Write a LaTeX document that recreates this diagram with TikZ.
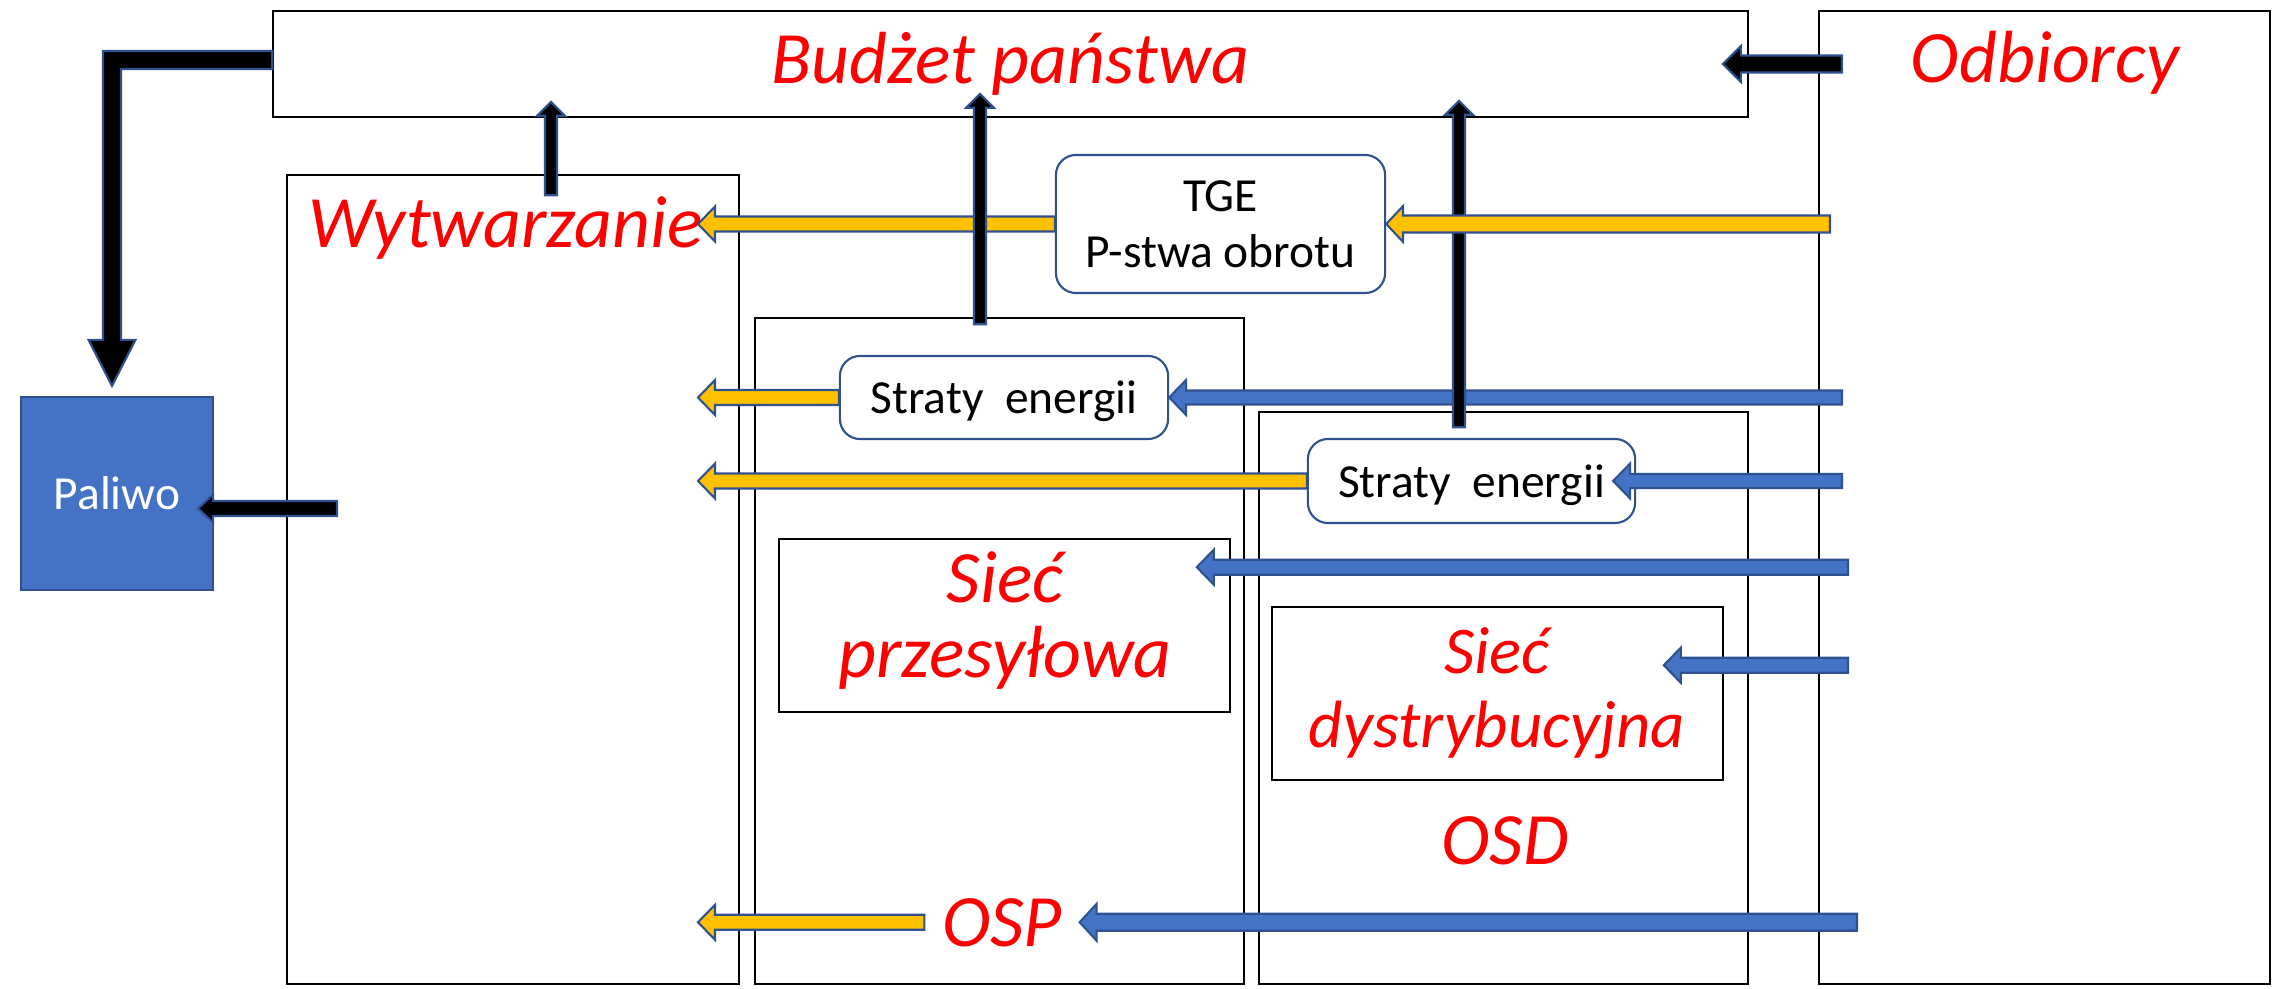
\documentclass[tikz,border=0pt]{standalone}
\usepackage{fontspec}
\setmainfont{Carlito}
\usetikzlibrary{calc,fit}

\definecolor{edge}{HTML}{2F528F}
\definecolor{gold}{HTML}{FFC000}
\definecolor{azure}{HTML}{4472C4}

\newcommand\titlefont{\fontsize{21}{21}\selectfont\itshape}
\newcommand\subtitlefont{\fontsize{19}{19}\selectfont\itshape}
\newcommand\bodyfont{\fontsize{13.5}{15.9}\selectfont}

\tikzset{
  frame/.style={draw=black, line width=0.45pt, inner sep=0pt},
  title/.style={text=red, font=\titlefont, inner sep=0pt},
  pill/.style={draw=edge, fill=white, line width=0.6pt, rounded corners=0.2cm,
    inner sep=0pt, align=center, font=\bodyfont},
  fuel/.style={draw=edge, fill=azure, line width=0.6pt, inner sep=0pt,
    text=white, font=\bodyfont},
  % block arrow: shaft half-width, head half-width, head length
  aw/.store in=\arrowshaft, ah/.store in=\arrowhead, al/.store in=\arrowlen,
  aw=0.07cm, ah=0.17cm, al=0.16cm,
  block/.style={draw=edge, line width=0.6pt, line join=miter, miter limit=10,
    to path={let \p1=(\tikztostart), \p2=(\tikztotarget),
      \n1={atan2(\y2-\y1,\x2-\x1)} in
      -- ($(\p1)+({\n1+90}:\arrowshaft)$)
      -- ($(\p2)+({\n1+180}:\arrowlen)+({\n1+90}:\arrowshaft)$)
      -- ($(\p2)+({\n1+180}:\arrowlen)+({\n1+90}:\arrowhead)$)
      -- (\p2)
      -- ($(\p2)+({\n1+180}:\arrowlen)+({\n1-90}:\arrowhead)$)
      -- ($(\p2)+({\n1+180}:\arrowlen)+({\n1-90}:\arrowshaft)$)
      -- ($(\p1)+({\n1-90}:\arrowshaft)$)
      -- cycle}},
  goldarrow/.style={block, fill=gold, aw=0.075cm, ah=0.175cm, al=0.17cm},
  bluearrow/.style={block, fill=azure, aw=0.075cm, ah=0.175cm, al=0.17cm},
  blackarrow/.style={block, fill=black},
  bentarrow/.style={draw=edge, fill=black, line width=0.6pt, line join=miter},
}

\begin{document}
\begin{tikzpicture}[x=0.01cm, y=-0.01cm]
\useasboundingbox (0,0) rectangle (2280,989);

% outer frames
\node[frame, fit={(273,11) (1748,117)}] (budzet) {};
\node[frame, fit={(1819,11) (2270,984)}] (odb) {};
\node[frame, fit={(287,175) (739,984)}] (wyt) {};
\node[frame, fit={(755,318) (1244,984)}] (osp) {};
\node[frame, fit={(1259,412) (1748,984)}] (osd) {};
\node[frame, fit={(779,539) (1230,712)}] (siecp) {};
\node[frame, fit={(1272,607) (1723,780)}] (siecd) {};

% red headings
\node[title, anchor=base] (budzetlbl) at (1010,84) {Budżet państwa};
\node[title, anchor=base] (odblbl) at (2045,83) {Odbiorcy};
\node[title, anchor=base] (wytlbl) at (506,248) {Wytwarzanie};
\node[title, anchor=base] (siecp1) at (1005,603) {Sieć};
\node[title, anchor=base] (siecp2) at (1005,677) {przesyłowa};
\node[title, font=\subtitlefont, anchor=base] (siecd1) at (1497,674) {Sieć};
\node[title, font=\subtitlefont, anchor=base] (siecd2) at (1497,748) {dystrybucyjna};
\node[title, anchor=base] (osdlbl) at (1505,864) {OSD};
\node[title, anchor=base, inner xsep=0.17cm] (osplbl) at (1002,946) {OSP};

% rounded boxes and fuel block
\node[pill, minimum width=3.29cm, minimum height=1.38cm] (tge) at (1220.5,224) {TGE\\P-stwa obrotu};
\node[pill, text depth=0pt, minimum width=3.28cm, minimum height=0.83cm] (str1) at (1004,397.5) {Straty\ \ energii};
\node[pill, text depth=0pt, minimum width=3.27cm, minimum height=0.84cm] (str2) at (1471.5,481) {Straty\ \ energii};
\node[fuel, minimum width=1.92cm, minimum height=1.93cm] (paliwo) at (117,493.5) {Paliwo};

% arrow ends
\coordinate (wytE) at (698,0);
\coordinate (ytail) at (1830,0);
\coordinate (btail) at (1842,0);
\coordinate (btailb) at (1848,0);
\coordinate (btailc) at (1857,0);
\coordinate (k5tail) at (337,0);
\coordinate (s2in) at ([xshift=-0.23cm]str2.east);
\coordinate (pin) at ([shift={(-34,29)}]siecp.north east);
\coordinate (din) at ([shift={(-60,59)}]siecd.north east);
\coordinate (budin) at ([xshift=-0.26cm]budzet.east);
\coordinate (palin) at ([shift={(-16,15)}]paliwo.east);
\coordinate (k2) at ($(wyt.north)+(38,21)$);
\coordinate (k3) at ($(osp.north)+(-19.5,7)$);
\coordinate (k4) at ($(osd.north)+(-44.5,16)$);
\coordinate (fuelknee) at (112,60);
\coordinate (fueltip) at ($(paliwo.north -| fuelknee)+(0,-10)$);

% energy flows from the customers
\draw[bluearrow, aw=0.07cm] (str1.east -| btail) to (str1.east);
\draw[bluearrow, aw=0.07cm] (s2in -| btail) to (s2in);
\draw[bluearrow] (pin -| btailb) to (pin);
\draw[bluearrow] (din -| btailb) to (din);
\draw[bluearrow, aw=0.085cm, ah=0.185cm] (osplbl.east -| btailc) to (osplbl.east);

% payment from the distribution operator
\draw[blackarrow, aw=0.06cm, ah=0.14cm, al=0.14cm] (k4) to ($(k4 |- budzet.south)+(0,-17)$);

% money flows to generation
\draw[goldarrow, aw=0.085cm, ah=0.18cm] (tge.east -| ytail) to (tge.east);
\draw[goldarrow] (tge.west) to (wytE |- tge.west);
\draw[goldarrow] (str1.west) to (wytE |- str1.west);
\draw[goldarrow] (str2.west) to (wytE |- str2.west);
\draw[goldarrow] (osplbl.west) to (wytE |- osplbl.west);

% payments to the state budget
\draw[blackarrow, aw=0.06cm, ah=0.14cm, al=0.14cm] (k3) to ($(k3 |- budzet.south)+(0,-24)$);
\draw[blackarrow, aw=0.06cm, ah=0.14cm, al=0.14cm] (k2) to ($(k2 |- budzet.south)+(0,-16)$);
\draw[blackarrow, aw=0.085cm, ah=0.18cm, al=0.18cm] (budin -| btail) to (budin);
\draw[blackarrow, aw=0.075cm, ah=0.14cm, al=0.15cm] (palin -| k5tail) to (palin);

% budget to fuel (bent arrow)
\draw[bentarrow]
  ($(budzet.west |- fuelknee)+(0,-9)$) -- ($(fuelknee)+(-9,-9)$)
  -- ($(fueltip)+(-9,-46)$) -- ($(fueltip)+(-23.5,-46)$) -- (fueltip)
  -- ($(fueltip)+(23.5,-46)$) -- ($(fueltip)+(9,-46)$)
  -- ($(fuelknee)+(9,9)$) -- ($(budzet.west |- fuelknee)+(0,9)$) -- cycle;
\end{tikzpicture}
\end{document}
